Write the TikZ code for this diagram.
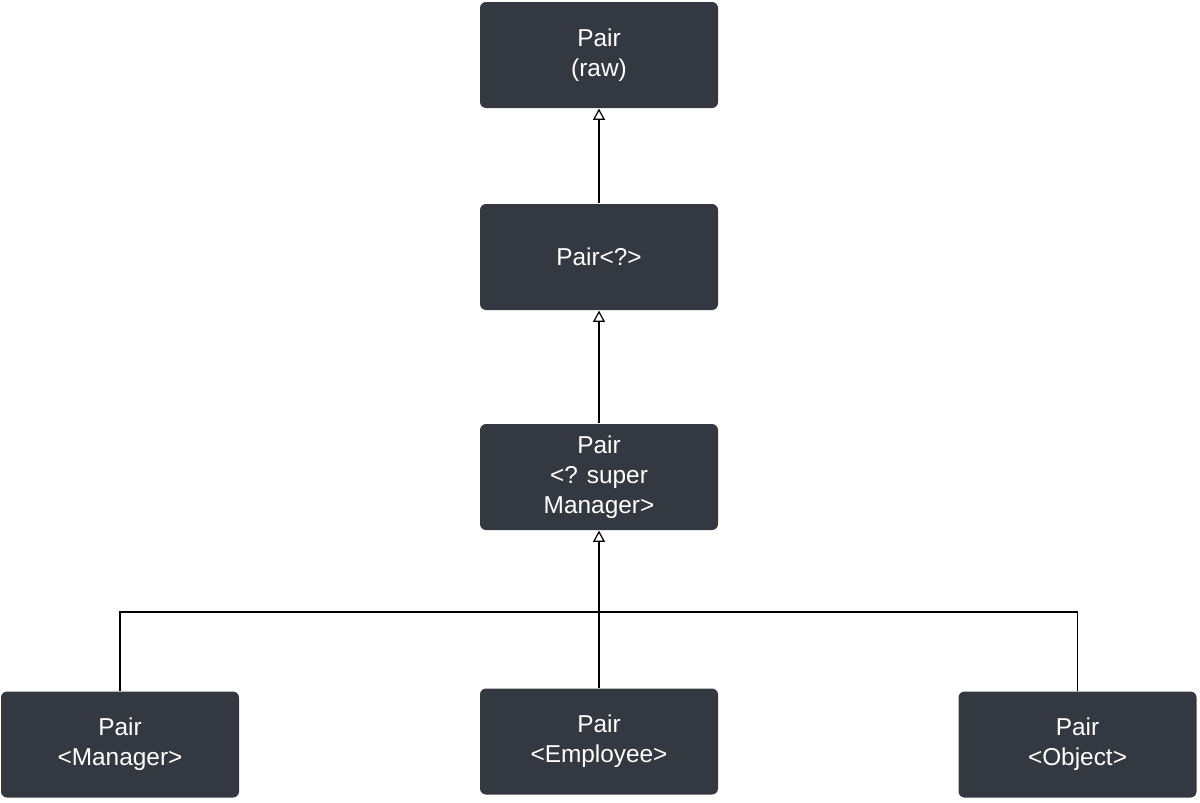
\documentclass[tikz,border=0pt]{standalone}
\usepackage{fontspec}
\setmainfont{Liberation Sans}
\usetikzlibrary{arrows.meta}
\definecolor{boxgray}{HTML}{343840}

\begin{document}
\begin{tikzpicture}[x=0.75pt, y=-0.75pt,
			gen/.style={-{Triangle[open, width=9pt, length=8.5pt]}},
			line width=0.9pt]
			\tikzstyle{pairbox}=[rectangle, rounded corners=4.5pt, fill=boxgray,
				text=white, align=center, inner sep=0pt,
				minimum width=178.5pt, minimum height=79.5pt,
				font=\fontsize{18.3pt}{22.5pt}\selectfont]
			\useasboundingbox (0,0) rectangle (1200,803);

			\node[pairbox] (Raw) at (599,55) {Pair\\(raw)};
			\node[pairbox] (Wild) at (599,257) {Pair<?>};
			\node[pairbox] (Super) at (599,477) {Pair\\<? super\\Manager>};

			\node[pairbox] (Mgr) at (120,744.5) {Pair\\<Manager>};
			\node[pairbox] (Emp) at (599,741.5) {Pair\\<Employee>};
			\node[pairbox] (Obj) at (1077.5,744.5) {Pair\\<Object>};

			\coordinate (join) at (599,612);

			\draw[gen] (Wild) -- (Raw);
			\draw[gen] (Super) -- (Wild);
			\draw[gen] (Emp) -- (Super);
			\draw (Mgr.north) |- (join) -| (Obj.north);

		\end{tikzpicture}
\end{document}
